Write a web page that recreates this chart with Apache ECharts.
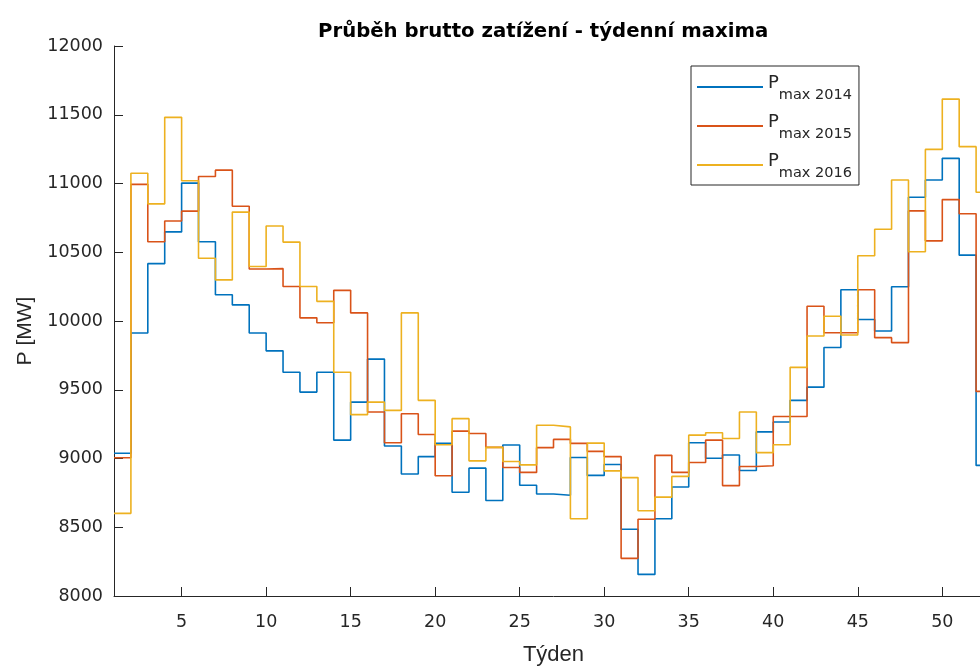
<!DOCTYPE html>
<html>
<head>
<meta charset="utf-8">
<script src="https://cdn.jsdelivr.net/npm/echarts@6/dist/echarts.min.js"></script>
<style>
  html, body { margin: 0; padding: 0; background: #fff; overflow: hidden; }
  /* the axes run a little past the right edge of the window */
  #chart { width: 1000px; height: 671px; }
</style>
</head>
<body>
<div id="chart"></div>
<script>
// Weekly peak gross load [MW], weeks 1..52
const weeks = Array.from({ length: 52 }, (_, i) => i + 1);

const pmax2014 = [
  9038, 9913, 10417, 10648, 11003, 10576, 10191, 10117, 9913, 9783,
  9627, 9483, 9627, 9134, 9410, 9723, 9091, 8887, 9014, 9110,
  8755, 8930, 8695, 9098, 8805, 8742, 8733, 9007, 8877, 8956,
  8486, 8157, 8562, 8793, 9115, 9002, 9026, 8913, 9194, 9266,
  9423, 9519, 9807, 10227, 10011, 9927, 10249, 10900, 11025, 11183,
  10479, 8950
];
const pmax2015 = [
  9005, 10994, 10576, 10727, 10799, 11051, 11097, 10835, 10378, 10381,
  10251, 10023, 9987, 10223, 10059, 9338, 9115, 9326, 9175, 8875,
  9199, 9182, 9081, 8935, 8899, 9079, 9139, 9110, 9052, 9014,
  8274, 8558, 9023, 8899, 8971, 9134, 8803, 8942, 8947, 9305,
  9305, 10107, 9915, 9915, 10227, 9879, 9843, 10801, 10583, 10883,
  10780, 9488
];
const pmax2016 = [
  8601, 11075, 10852, 11481, 11020, 10456, 10299, 10792, 10396, 10691,
  10574, 10251, 10143, 9627, 9319, 9410, 9350, 10059, 9423, 9100,
  9290, 8983, 9081, 8978, 8954, 9242, 9230, 8562, 9112, 8910,
  8861, 8620, 8719, 8870, 9170, 9187, 9146, 9338, 9043, 9100,
  9663, 9891, 10035, 9898, 10475, 10667, 11025, 10504, 11248, 11614,
  11268, 10936
];

const seriesNames = ['max 2014', 'max 2015', 'max 2016'];
const xTicks = [5, 10, 15, 20, 25, 30, 35, 40, 45, 50];

const SANS = 'Liberation Sans, Arial, Helvetica, sans-serif';
const WIDE = 'DejaVu Sans, Verdana, sans-serif';
const INK = '#262626';
const COLORS = ['#0072BD', '#D95319', '#EDB120'];

// stairs: each week's value holds until the start of the next week
function stairs(values) {
  const pts = weeks.map((w, i) => [w, values[i]]);
  pts.push([weeks[weeks.length - 1] + 1, values[values.length - 1]]);
  return pts;
}

const chart = echarts.init(document.getElementById('chart'), null, { renderer: 'canvas' });

chart.setOption({
  animation: false,
  backgroundColor: '#ffffff',
  title: {
    text: 'Průběh brutto zatížení - týdenní maxima',
    left: 318,
    top: 22,
    padding: 0,
    textStyle: { fontFamily: WIDE, fontSize: 19.7, fontWeight: 'bold', color: '#000' }
  },
  grid: { left: 114, top: 46, width: 879, height: 554, containLabel: false },
  legend: {
    orient: 'vertical',
    left: 691,
    top: 66,
    padding: [8, 7, 4, 6],
    icon: 'rect',
    itemWidth: 66,
    itemHeight: 2,
    itemGap: 10,
    backgroundColor: '#fff',
    borderColor: INK,
    borderWidth: 1,
    borderRadius: 0,
    data: seriesNames,
    formatter: name => '{p|P}{s|' + name + '}',
    textStyle: {
      fontFamily: WIDE,
      color: INK,
      rich: {
        p: { fontFamily: WIDE, fontSize: 18, color: INK, padding: [0, 0, 8, 0] },
        s: { fontFamily: WIDE, fontSize: 14.5, color: INK, padding: [17, 0, 0, 0] }
      }
    }
  },
  xAxis: {
    type: 'value',
    min: 1,
    max: 53,
    name: 'Týden',
    nameLocation: 'middle',
    nameGap: 48,
    nameTextStyle: { fontFamily: SANS, fontSize: 22, color: INK },
    axisLine: { show: true, onZero: false, lineStyle: { color: INK, width: 1 } },
    axisTick: { show: true, inside: true, length: 9, customValues: xTicks, lineStyle: { color: INK } },
    axisLabel: { customValues: xTicks, margin: 17, fontFamily: WIDE, fontSize: 17.5, color: INK },
    splitLine: { show: false }
  },
  yAxis: {
    type: 'value',
    min: 8000,
    max: 12000,
    interval: 500,
    name: 'P [MW]',
    nameLocation: 'middle',
    nameGap: 78,
    nameRotate: 90,
    nameTextStyle: { fontFamily: SANS, fontSize: 21, color: INK, padding: [0, 20, 0, 0] },
    axisLine: { show: true, onZero: false, lineStyle: { color: INK, width: 1 } },
    axisTick: { show: true, inside: true, length: 9, lineStyle: { color: INK } },
    axisLabel: { margin: 11, fontFamily: WIDE, fontSize: 17.5, color: INK, formatter: v => String(v) },
    splitLine: { show: false }
  },
  series: [pmax2014, pmax2015, pmax2016].map((vals, i) => ({
    name: seriesNames[i],
    type: 'line',
    step: 'end',
    symbol: 'none',
    clip: true,
    color: COLORS[i],
    lineStyle: { color: COLORS[i], width: 1.6 },
    data: stairs(vals)
  }))
});
</script>
</body>
</html>
